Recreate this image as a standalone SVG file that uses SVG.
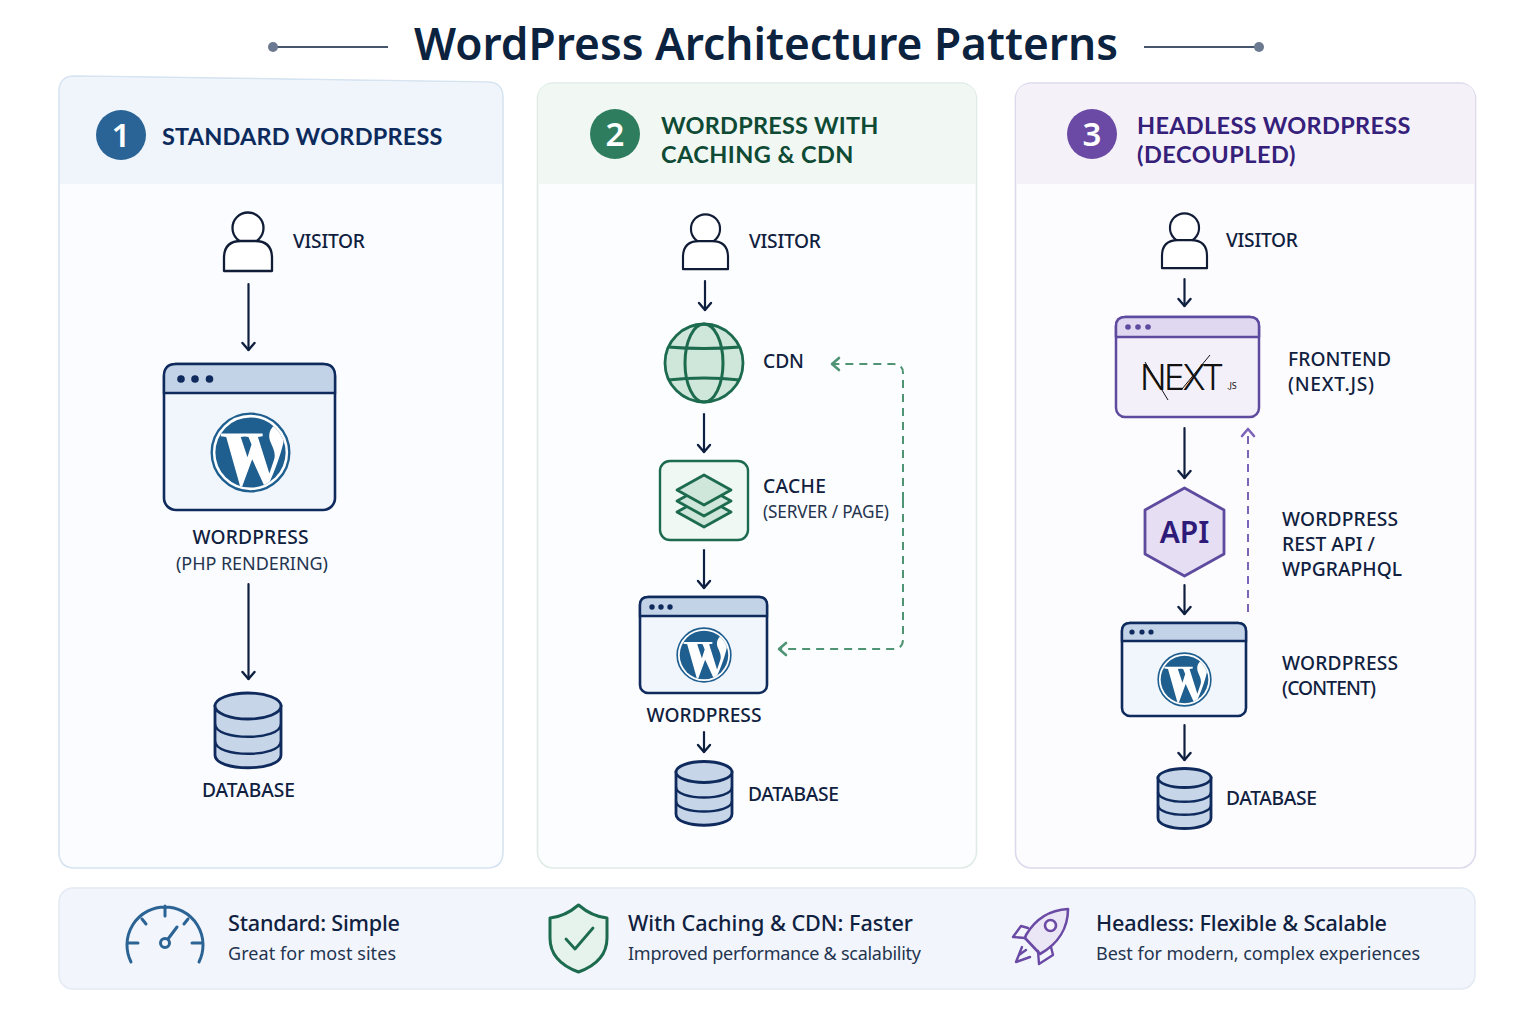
<svg xmlns="http://www.w3.org/2000/svg" width="1536" height="1024" viewBox="0 0 1536 1024">
<style>
text{font-family:"Noto Sans","Open Sans","Liberation Sans",sans-serif;fill:#10213f}
.title{font-size:45px;font-weight:600;fill:#0c2340}
.head{font-family:Lato,"Noto Sans",sans-serif;font-size:23.5px;font-weight:700;letter-spacing:.6px}
.num{font-size:33px;font-weight:600;fill:#fff;text-anchor:middle}
.lb{font-size:19.2px;font-weight:500}
.sub{font-size:18px;font-weight:400;fill:#24344f}
.ft{font-size:21.6px;font-weight:500}
.fs{font-size:18px;font-weight:400;fill:#24344f}
.mid{text-anchor:middle}
.ink{fill:none;stroke:#0f1f40;stroke-width:2.2;stroke-linecap:round}
.gd{fill:none;stroke:#4f9475;stroke-width:2;stroke-dasharray:8 6}
.pd{fill:none;stroke:#7c63b8;stroke-width:2;stroke-dasharray:8 6}
.person{fill:#fff;stroke:#111c36;stroke-width:2.3;stroke-linejoin:round}
.bb{fill:#f1f5fc;stroke:#0f2a5c;stroke-width:2.6}
.bar{fill:#c3d3e7;stroke:#0f2a5c;stroke-width:2.4}
.dot{fill:#0f2a5c}
.db{fill:#c6d5e8;stroke:#0f2a5c;stroke-width:2.8}
.dbl{fill:none;stroke:#0f2a5c;stroke-width:2.4}
.green{stroke:#1c6b4f;stroke-width:2.8;fill:#cfe6da;stroke-linejoin:round}
.pur{stroke:#5e4a9e;stroke-width:2.5;stroke-linejoin:round}
.blue{fill:none;stroke:#2b6394;stroke-width:3;stroke-linecap:round}
</style>
<defs>
<marker id="ah" markerUnits="userSpaceOnUse" markerWidth="16" markerHeight="16" refX="11" refY="8" orient="auto"><path d="M4,2 L11,8 L4,14" fill="none" stroke="#0f1f40" stroke-width="2.4" stroke-linecap="round" stroke-linejoin="round"/></marker>
<marker id="ag" markerUnits="userSpaceOnUse" markerWidth="16" markerHeight="16" refX="11" refY="8" orient="auto"><path d="M4,2 L11,8 L4,14" fill="none" stroke="#4f9475" stroke-width="2.6" stroke-linecap="round" stroke-linejoin="round"/></marker>
<marker id="ap" markerUnits="userSpaceOnUse" markerWidth="16" markerHeight="16" refX="11" refY="8" orient="auto"><path d="M4,2 L11,8 L4,14" fill="none" stroke="#7c63b8" stroke-width="2.6" stroke-linecap="round" stroke-linejoin="round"/></marker>
<clipPath id="disk"><circle r="104"/></clipPath>
<symbol id="wp" viewBox="-120 -120 240 240">
<circle r="115" fill="#fff" stroke="#1f5f8f" stroke-width="7"/>
<circle r="104" fill="#1f5f8f"/>
<path clip-path="url(#disk)" fill="#fff" d="M-88,-56 H-12 V-48 L-29,-46 L-9,14 L3,-24 L-6,-46 L-22,-48 V-56 H36 V-48 L22,-46 L56,62 L69,24 C77,2 66,-14 58,-34 C50,-58 62,-78 80,-86 L120,-70 L120,-38 L99,-38 C94,-10 76,50 46,110 L5,20 L-28,110 L-72,-46 L-88,-48 Z"/>
</symbol>
<symbol id="pr" viewBox="0 0 52 64"><circle cx="26" cy="18" r="15.500" class="person"/><path class="person" d="M2,61 V48 Q2,31 19,31 H33 Q50,31 50,48 V61 Z"/></symbol>
</defs>
<rect width="1536" height="1024" fill="#fff"/>

<g id="title">
<line x1="274" y1="47" x2="388" y2="47" stroke="#46566e" stroke-width="2"/><circle cx="273" cy="47" r="5" fill="#6b7a90"/>
<line x1="1144" y1="47" x2="1258" y2="47" stroke="#46566e" stroke-width="2"/><circle cx="1259" cy="47" r="5" fill="#6b7a90"/>
<text class="title" x="414" y="60" textLength="704" lengthAdjust="spacingAndGlyphs">WordPress Architecture Patterns</text>
</g>

<g id="panel-1">
<path d="M75,76 L487,82 Q503,82 503,98 V852 Q503,868 487,868 H75 Q59,868 59,852 V92 Q59,76 75,76 Z" fill="#fafcff" stroke="#d6e3f1" stroke-width="1.600"/>
<path d="M75,77 L487,83 Q502,83 502,98 V184 H60 V92 Q60,77 75,77 Z" fill="#eff5fb"/>
<circle cx="121" cy="135" r="25" fill="#2a6496"/><text class="num" x="121" y="147">1</text>
<text class="head" x="162" y="145" style="fill:#0d2a5c" textLength="281">STANDARD WORDPRESS</text>
</g>
<g id="panel-2">
<rect x="537.500" y="83" width="439" height="785" rx="16" fill="#fcfdfe" stroke="#dfece6" stroke-width="1.600"/>
<path d="M554,84 H960 Q976,84 976,99 V184 H538 V99 Q538,84 554,84 Z" fill="#f1f8f4"/>
<circle cx="615" cy="134" r="25" fill="#2e7d5f"/><text class="num" x="615" y="146">2</text>
<text class="head" x="661" y="134" style="fill:#0f4a35" textLength="218">WORDPRESS WITH</text>
<text class="head" x="661" y="163" style="fill:#0f4a35" textLength="193">CACHING &amp; CDN</text>
</g>
<g id="panel-3">
<rect x="1015.500" y="83" width="460" height="785" rx="16" fill="#fcfcfe" stroke="#ddd9ec" stroke-width="1.600"/>
<path d="M1032,84 H1460 Q1475,84 1475,99 V184 H1016 V99 Q1016,84 1032,84 Z" fill="#f4f1f9"/>
<circle cx="1092" cy="134" r="25" fill="#6a4aa5"/><text class="num" x="1092" y="146">3</text>
<text class="head" x="1137" y="134" style="fill:#35207a" textLength="274">HEADLESS WORDPRESS</text>
<text class="head" x="1137" y="163" style="fill:#35207a" textLength="159">(DECOUPLED)</text>
</g>

<g id="connectors">
<line class="ink" x1="248.500" y1="284" x2="248.500" y2="350" marker-end="url(#ah)"/>
<line class="ink" x1="248.500" y1="584" x2="248.500" y2="679" marker-end="url(#ah)"/>
<line class="ink" x1="705" y1="281" x2="705" y2="310" marker-end="url(#ah)"/>
<line class="ink" x1="704" y1="414" x2="704" y2="452" marker-end="url(#ah)"/>
<line class="ink" x1="704" y1="550" x2="704" y2="588" marker-end="url(#ah)"/>
<line class="ink" x1="704" y1="732" x2="704" y2="752" marker-end="url(#ah)"/>
<line class="ink" x1="1184.500" y1="279" x2="1184.500" y2="306" marker-end="url(#ah)"/>
<line class="ink" x1="1184.500" y1="428" x2="1184.500" y2="478" marker-end="url(#ah)"/>
<line class="ink" x1="1184.500" y1="585" x2="1184.500" y2="614" marker-end="url(#ah)"/>
<line class="ink" x1="1184.500" y1="725" x2="1184.500" y2="760" marker-end="url(#ah)"/>
<path class="gd" d="M903,500 V373 Q903,364 893,364 H832" marker-end="url(#ag)"/>
<path class="gd" d="M903,500 V639 Q903,649 893,649 H779" marker-end="url(#ag)"/>
<path class="pd" d="M1248,612 V429" marker-end="url(#ap)"/>
</g>

<g id="visitor-1"><use href="#pr" x="222" y="210" width="52" height="64"/><text class="lb" x="293" y="248" textLength="72">VISITOR</text></g>
<g id="wordpress-1">
<rect class="bb" x="164" y="364" width="171" height="146" rx="12"/>
<path class="bar" d="M164,393 V376 Q164,364 176,364 H323 Q335,364 335,376 V393 Z"/>
<circle class="dot" cx="181" cy="379" r="3.800"/><circle class="dot" cx="195" cy="379" r="3.800"/><circle class="dot" cx="209.500" cy="379" r="3.800"/>
<use href="#wp" x="210" y="412" width="81" height="81"/>
<text class="lb mid" x="250.500" y="544" textLength="116">WORDPRESS</text><text class="sub mid" x="252" y="570" textLength="152">(PHP RENDERING)</text>
</g>
<g id="database-1">
<path class="db" d="M215,706 V755 C215,772 281,772 281,755 V706 Z"/><ellipse class="db" cx="248" cy="706" rx="33" ry="13"/>
<path class="dbl" d="M215,724 C215,741 281,741 281,724 M215,741 C215,758 281,758 281,741"/>
<text class="lb mid" x="248.500" y="797" textLength="93">DATABASE</text>
</g>

<g id="visitor-2"><use href="#pr" x="681" y="212" width="49" height="60"/><text class="lb" x="749" y="248" textLength="72">VISITOR</text></g>
<g id="cdn">
<circle class="green" cx="704" cy="363" r="39"/>
<ellipse cx="704" cy="363" rx="19" ry="39" fill="none" stroke="#1c6b4f" stroke-width="3"/>
<path d="M668,347 Q704,350 740,347 M668,380 Q704,376 740,380" fill="none" stroke="#1c6b4f" stroke-width="3"/>
<text class="lb" x="763" y="368" textLength="41">CDN</text>
</g>
<g id="cache">
<rect x="660" y="461" width="88" height="79" rx="10" fill="#f0f8f4" stroke="#1c6b4f" stroke-width="2.400"/>
<path class="green" d="M704,497 L731,512 L704,527 L677,512 Z"/>
<path class="green" d="M704,486 L731,501 L704,516 L677,501 Z"/>
<path class="green" d="M704,475 L731,490 L704,505 L677,490 Z"/>
<text class="lb" x="763" y="493" textLength="63">CACHE</text><text class="sub" x="763" y="518" textLength="126" style="font-size:17.200px">(SERVER / PAGE)</text>
</g>
<g id="wordpress-2">
<rect class="bb" x="640" y="597" width="127" height="96" rx="8"/>
<path class="bar" d="M640,616 V605 Q640,597 648,597 H759 Q767,597 767,605 V616 Z"/>
<circle class="dot" cx="652" cy="607" r="2.700"/><circle class="dot" cx="661" cy="607" r="2.700"/><circle class="dot" cx="670" cy="607" r="2.700"/>
<use href="#wp" x="676" y="627" width="56" height="56"/>
<text class="lb mid" x="704" y="722" textLength="115">WORDPRESS</text>
</g>
<g id="database-2">
<path class="db" d="M676,772 V814 C676,829 732,829 732,814 V772 Z"/><ellipse class="db" cx="704" cy="772" rx="28" ry="10.500"/>
<path class="dbl" d="M676,787 C676,801 732,801 732,787 M676,801 C676,815 732,815 732,801"/>
<text class="lb" x="748" y="801" textLength="91">DATABASE</text>
</g>

<g id="visitor-3"><use href="#pr" x="1160" y="211" width="49" height="60"/><text class="lb" x="1226" y="247" textLength="72">VISITOR</text></g>
<g id="frontend">
<rect class="pur" x="1116" y="317" width="143" height="100" rx="9" fill="#f4f0fa"/>
<path class="pur" fill="#e0d8f1" d="M1116,337 V326 Q1116,317 1125,317 H1250 Q1259,317 1259,326 V337 Z"/>
<circle cx="1128" cy="327" r="2.800" fill="#5e4a9e"/><circle cx="1138" cy="327" r="2.800" fill="#5e4a9e"/><circle cx="1148" cy="327" r="2.800" fill="#5e4a9e"/>
<text x="1140" y="390" style="font-family:Inter,'Noto Sans',sans-serif;font-size:35px;font-weight:300;fill:#111;letter-spacing:-2.500px">NEXT</text>
<text x="1227" y="389" style="font-size:9px;fill:#111">.JS</text>
<path d="M1145,362 L1168,400 M1182,389 L1210,355" stroke="#111" stroke-width="1" fill="none"/>
<text class="lb" x="1288" y="366" textLength="103">FRONTEND</text><text class="lb" x="1288" y="391" textLength="86">(NEXT.JS)</text>
</g>
<g id="api">
<path d="M1184.500,488 L1224,510 V554 L1184.500,576 L1145,554 V510 Z" fill="#e6dff3" stroke="#5e4a9e" stroke-width="2.800" stroke-linejoin="round"/>
<text class="mid" x="1184.500" y="543" style="font-size:30px;font-weight:600;fill:#2e1a78">API</text>
<text class="lb" x="1282" y="526" textLength="116">WORDPRESS</text><text class="lb" x="1282" y="551" textLength="93">REST API /</text><text class="lb" x="1282" y="576" textLength="120">WPGRAPHQL</text>
</g>
<g id="wordpress-3">
<rect class="bb" x="1122" y="623" width="124" height="93" rx="8"/>
<path class="bar" d="M1122,641 V631 Q1122,623 1130,623 H1238 Q1246,623 1246,631 V641 Z"/>
<circle class="dot" cx="1132" cy="632" r="2.600"/><circle class="dot" cx="1142" cy="632" r="2.600"/><circle class="dot" cx="1151" cy="632" r="2.600"/>
<use href="#wp" x="1157" y="652" width="55" height="55"/>
<text class="lb" x="1282" y="670" textLength="116">WORDPRESS</text><text class="lb" x="1282" y="695" textLength="94">(CONTENT)</text>
</g>
<g id="database-3">
<path class="db" d="M1158,778 V818 C1158,832 1211,832 1211,818 V778 Z"/><ellipse class="db" cx="1184.500" cy="778" rx="26.500" ry="9.500"/>
<path class="dbl" d="M1158,792 C1158,805 1211,805 1211,792 M1158,805 C1158,818 1211,818 1211,805"/>
<text class="lb" x="1226" y="805" textLength="91">DATABASE</text>
</g>

<g id="summary">
<rect x="59" y="888" width="1416" height="101" rx="14" fill="#f2f6fc" stroke="#e3eaf4" stroke-width="1.500"/>
<g id="sum-1">
<path class="blue" d="M131,962 A38,38 0 1 1 199,962 M127,943 H138 M192,943 H203 M165,906 V916 M142,919 L146,924 M188,919 L184,924"/>
<circle cx="165" cy="943" r="4.500" fill="none" stroke="#2b6394" stroke-width="3"/><path d="M168,939 L177,927" class="blue"/>
<text class="ft" x="228" y="931" textLength="172">Standard: Simple</text><text class="fs" x="228" y="960" textLength="168">Great for most sites</text>
</g>
<g id="sum-2">
<path d="M578.500,905 C568,914 560,917 550,918 V938 C550,955 562,966 578.500,972 C595,966 607,955 607,938 V918 C597,917 589,914 578.500,905 Z" fill="#e6f2ec" stroke="#1c6b4f" stroke-width="3" stroke-linejoin="round"/>
<path d="M566,939 L575,949 L593,928" fill="none" stroke="#1c6b4f" stroke-width="2.800" stroke-linecap="round" stroke-linejoin="round"/>
<text class="ft" x="628" y="931" textLength="285">With Caching &amp; CDN: Faster</text><text class="fs" x="628" y="960" textLength="293">Improved performance &amp; scalability</text>
</g>
<g id="sum-3">
<path d="M1068,909 C1050,910 1036,918 1026,935 L1025,938 L1040,954 C1058,944 1068,928 1068,909 Z" fill="#ebe6f5" stroke="#6a4aa5" stroke-width="2.600" stroke-linejoin="round"/>
<circle cx="1050.500" cy="925.500" r="5.500" fill="#f6f3fb" stroke="#6a4aa5" stroke-width="2.600"/>
<path d="M1028,928 L1021,926 L1013,937 L1025,938 M1051,947 L1053,955 L1039,964 L1038,951 M1022,947 L1016,962 L1030,957 M1019,955 L1026,950" fill="none" stroke="#6a4aa5" stroke-width="2.400" stroke-linejoin="round" stroke-linecap="round"/>
<text class="ft" x="1096" y="931" textLength="291">Headless: Flexible &amp; Scalable</text><text class="fs" x="1096" y="960" textLength="324">Best for modern, complex experiences</text>
</g>
</g>
</svg>
